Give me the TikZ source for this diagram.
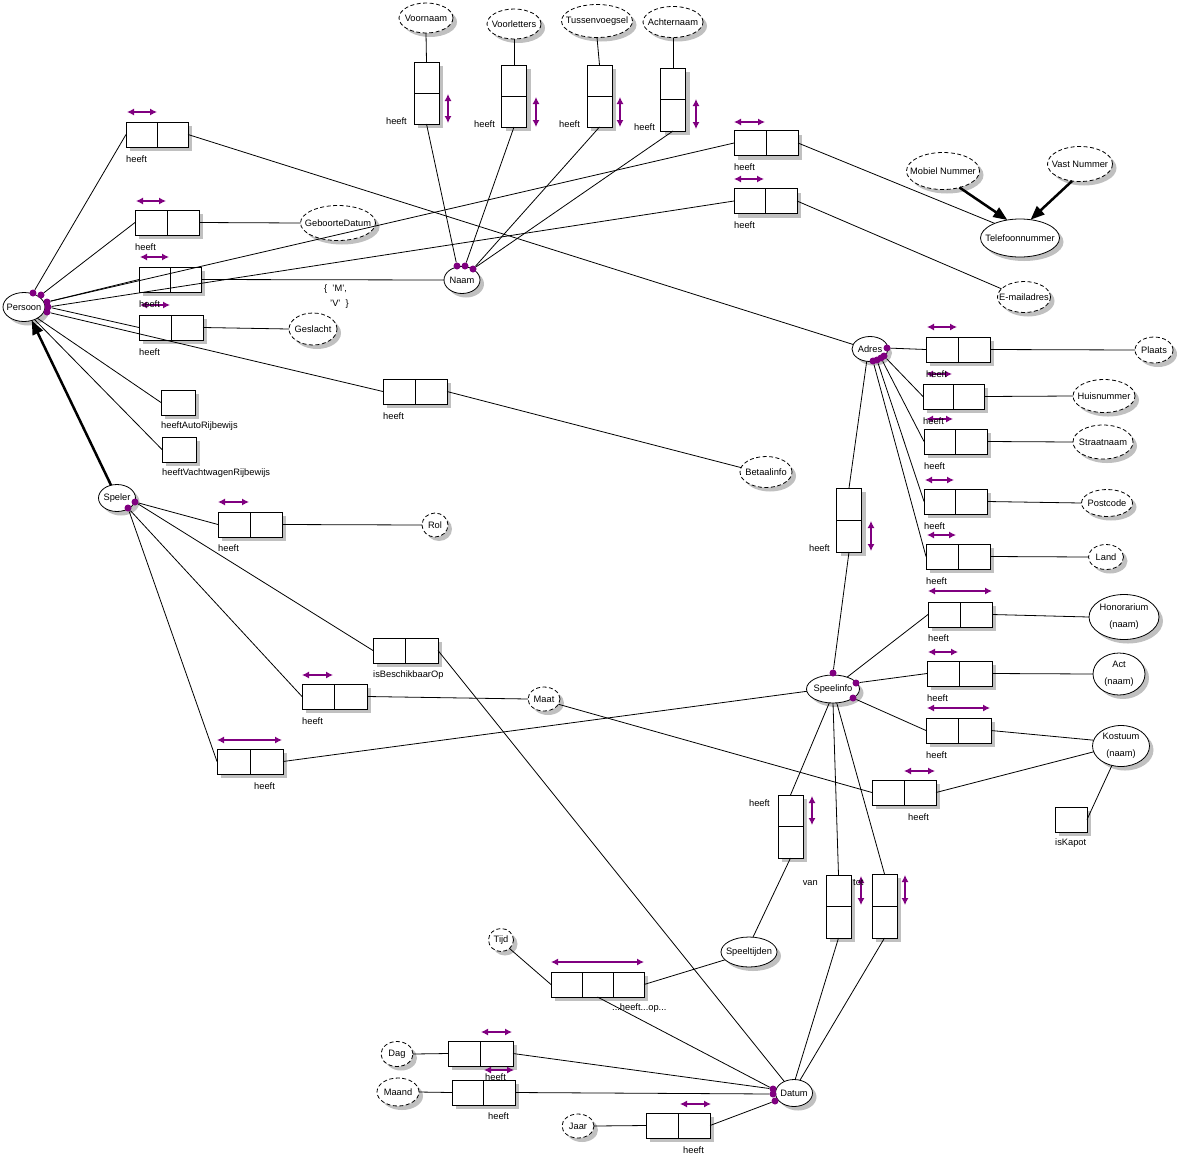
\documentclass[tikz,border=0pt]{standalone}
\usepackage{fontspec}
\setmainfont{Liberation Sans}
\usetikzlibrary{shapes.geometric,shadows,arrows.meta}
\definecolor{ormpurple}{HTML}{800080}
\definecolor{shadowgray}{HTML}{C0C0C0}
\newcommand{\ormH}[4]{\node[rbox,minimum width=#4pt,minimum height=25pt] (#1) at (#2,#3) {};
  \draw[line width=0.9pt] (#1.north) -- (#1.south);}
\newcommand{\ormV}[4]{\node[rbox,minimum width=25pt,minimum height=#4pt] (#1) at (#2,#3) {};
  \draw[line width=0.9pt] (#1.west) -- (#1.east);}
\newcommand{\ormS}[4]{\node[rbox,minimum width=#4pt,minimum height=25pt] (#1) at (#2,#3) {};}
\begin{document}
\begin{tikzpicture}[x=1pt,y=-1pt,
  every node/.style={font=\fontsize{9.3}{11}\selectfont},
  shad/.style={drop shadow={shadow xshift=4pt,shadow yshift=-4pt,fill=shadowgray,opacity=1}},
  rbox/.style={draw,line width=0.9pt,fill=white,inner sep=0pt,outer sep=0pt,shape=rectangle,shad},
  ent/.style={ellipse,draw,line width=0.8pt,fill=white,inner xsep=-10pt,inner ysep=-4pt,outer sep=0pt,align=center,shad,font=\fontsize{9.3}{17}\selectfont},
  val/.style={ent,dash pattern=on 4pt off 2.5pt},
  conn/.style={line width=0.8pt},
  uc/.style={draw=ormpurple,line width=1.2pt,{Latex[length=7pt,width=7pt]}-{Latex[length=7pt,width=7pt]}},
  dot/.style={circle,fill=ormpurple,inner sep=0pt,minimum size=7pt},
  lbl/.style={inner sep=0pt,anchor=west},
  lbr/.style={inner sep=0pt,anchor=east},
  subt/.style={line width=2.5pt,-{Triangle[length=14pt,width=11pt]}}
]
\useasboundingbox[fill=white] (0,0) rectangle (1177,1165);

% ---------- object types ----------
\node[ent,minimum width=42pt,minimum height=29pt] (persoon) at (24,307) {Persoon};
\node[ent,minimum width=36pt,minimum height=27pt] (naam) at (462,280) {Naam};
\node[val,minimum width=54pt,minimum height=30pt] (voornaam) at (426,18) {Voornaam};
\node[val,minimum width=54pt,minimum height=30pt] (voorletters) at (514,24) {Voorletters};
\node[val,minimum width=71pt,minimum height=33pt] (tussen) at (597,21) {Tussenvoegsel};
\node[val,minimum width=60pt,minimum height=31pt] (achternaam) at (673,22) {Achternaam};
\node[val,minimum width=75pt,minimum height=35pt] (geboorte) at (338,223) {GeboorteDatum};
\node[val,minimum width=48pt,minimum height=32pt] (geslacht) at (313,329) {Geslacht};
\node[val,minimum width=73pt,minimum height=37pt] (mobiel) at (943,171) {Mobiel Nummer};
\node[val,minimum width=65pt,minimum height=35pt] (vast) at (1080,164) {Vast Nummer};
\node[ent,minimum width=79pt,minimum height=38pt] (telefoon) at (1020,238) {Telefoonnummer};
\node[val,minimum width=53pt,minimum height=31pt] (email) at (1024,297) {E-mailadres};
\node[ent,minimum width=36pt,minimum height=25pt] (adres) at (870,349) {Adres};
\node[val,minimum width=38pt,minimum height=26pt] (plaats) at (1154,350) {Plaats};
\node[val,minimum width=62pt,minimum height=33pt] (huisnr) at (1104,396) {Huisnummer};
\node[val,minimum width=60pt,minimum height=34pt] (straat) at (1103,442) {Straatnaam};
\node[val,minimum width=51pt,minimum height=27pt] (postcode) at (1107,503) {Postcode};
\node[val,minimum width=35pt,minimum height=25pt] (land) at (1106,557) {Land};
\node[val,minimum width=52pt,minimum height=31pt] (betaal) at (766,472) {Betaalinfo};
\node[ent,minimum width=37pt,minimum height=27pt] (speler) at (117,498) {Speler};
\node[val,minimum width=26pt,minimum height=24pt] (rol) at (435,525) {Rol};
\node[val,minimum width=32pt,minimum height=24pt] (maat) at (544,699) {Maat};
\node[ent,minimum width=53pt,minimum height=28pt] (speelinfo) at (833,689) {Speelinfo};
\node[ent,minimum width=70pt,minimum height=45pt] (honor) at (1124,617) {Honorarium\\(naam)};
\node[ent,minimum width=52pt,minimum height=42pt] (act) at (1119,674) {Act\\(naam)};
\node[ent,minimum width=57pt,minimum height=41pt] (kostuum) at (1121,746) {Kostuum\\(naam)};
\node[ent,minimum width=56pt,minimum height=30pt] (speeltijden) at (749,952) {Speeltijden};
\node[val,minimum width=25pt,minimum height=23pt] (tijd) at (501,940) {Tijd};
\node[ent,minimum width=37pt,minimum height=27pt] (datum) at (794,1093) {Datum};
\node[val,minimum width=32pt,minimum height=25pt] (dag) at (397,1054) {Dag};
\node[val,minimum width=42pt,minimum height=28pt] (maand) at (398,1092) {Maand};
\node[val,minimum width=32pt,minimum height=24pt] (jaar) at (578,1126) {Jaar};

% ---------- fact types ----------
\ormH{bAdres}{157}{134.5}{62}
\ormH{bGeb}{167}{222.5}{64}
\ormH{bNaam}{170}{279.5}{62}
\ormH{bGesl}{171}{327.5}{64}
\ormS{bAuto}{178}{402.5}{34}
\ormS{bVacht}{179}{449.5}{34}
\ormH{bBetaal}{415}{391.5}{64}
\ormH{bTel}{766}{143}{64}
\ormH{bMail}{765.5}{201}{63}
\ormV{bVoor}{426.5}{93}{62}
\ormV{bVoorl}{514}{96}{62}
\ormV{bTussen}{599.5}{96}{62}
\ormV{bAchter}{673}{99.5}{63}
\ormH{bPlaats}{958}{349.5}{64}
\ormH{bHuis}{953.5}{396.5}{61}
\ormH{bStraat}{955.5}{441.5}{63}
\ormH{bPost}{955.5}{501.5}{63}
\ormH{bLand}{958}{556.5}{64}
\ormV{bAdrSpel}{849}{520}{64}
\ormH{bHonor}{960}{614.5}{64}
\ormH{bAct}{959.5}{673.5}{65}
\ormH{bKost}{958.5}{730.5}{65}
\ormH{bMaatK}{904}{792.5}{64}
\ormS{bKapot}{1071}{819.5}{32}
\ormV{bSpT}{790.5}{826.5}{63}
\ormV{bVan}{838.5}{906.5}{63}
\ormV{bTot}{884.5}{906}{64}
\ormH{bRol}{250}{524.5}{64}
\ormH{bBesch}{405.5}{650.5}{65}
\ormH{bMaat}{334.5}{696.5}{65}
\ormH{bSpInfo}{250}{761.5}{66}
\node[rbox,minimum width=93pt,minimum height=25pt] (bSpTijd) at (597.5,984.5) {};
\draw[line width=0.9pt] ([xshift=31pt]bSpTijd.north west) -- ([xshift=31pt]bSpTijd.south west);
\draw[line width=0.9pt] ([xshift=-31pt]bSpTijd.north east) -- ([xshift=-31pt]bSpTijd.south east);
\ormH{bDag}{480.5}{1053.5}{65}
\ormH{bMaand}{483.5}{1092.5}{63}
\ormH{bJaar}{678}{1125.5}{64}

% ---------- uniqueness constraints ----------
\draw[uc] (127,112) -- (157,112);
\draw[uc] (136,201) -- (166,201);
\draw[uc] (140,257) -- (169,257);
\draw[uc] (140,305) -- (170,305);
\draw[uc] (734,122) -- (765,122);
\draw[uc] (734,179) -- (764,179);
\draw[uc] (448,94) -- (448,123);
\draw[uc] (536,97) -- (536,127);
\draw[uc] (620,97) -- (620,127);
\draw[uc] (696,99) -- (696,129);
\draw[uc] (927,327) -- (957,327);
\draw[uc] (926,374) -- (952,374);
\draw[uc] (926,419) -- (953,419);
\draw[uc] (925,480) -- (954,480);
\draw[uc] (927,535) -- (956,535);
\draw[uc] (871,521) -- (871,551);
\draw[uc] (928,591) -- (992,591);
\draw[uc] (928,652) -- (958,652);
\draw[uc] (927,708) -- (990,708);
\draw[uc] (904,771) -- (935,771);
\draw[uc] (812,796) -- (812,825);
\draw[uc] (861,876) -- (861,905);
\draw[uc] (905,875) -- (905,905);
\draw[uc] (218,502) -- (249,502);
\draw[uc] (302,675) -- (333,675);
\draw[uc] (217,740) -- (282,740);
\draw[uc] (551,962) -- (644,962);
\draw[uc] (481,1032) -- (512,1032);
\draw[uc] (484,1070) -- (514,1070);
\draw[uc] (680,1104) -- (711,1104);

% ---------- role dots ----------
\node[dot] (pd1) at (33,293) {};
\node[dot] (pd2) at (41,295) {};
\node[dot] (pd3) at (47,302) {};
\node[dot] (pd4) at (48,307) {};
\node[dot] (pd5) at (47,312) {};
\node[dot] (nd1) at (457,266) {};
\node[dot] (nd2) at (465,266) {};
\node[dot] (nd3) at (473,269) {};
\node[dot] (ad0) at (887,348) {};
\node[dot] (ad1) at (873,361) {};
\node[dot] (ad2) at (877,360) {};
\node[dot] (ad3) at (881,358) {};
\node[dot] (ad4) at (884,356) {};
\node[dot] (sd1) at (135,502) {};
\node[dot] (sd2) at (128,508) {};
\node[dot] (sid1) at (833,673) {};
\node[dot] (sid2) at (856,683) {};
\node[dot] (sid3) at (853,698) {};
\node[dot] (dd1) at (773,1089) {};
\node[dot] (dd2) at (773,1094) {};
\node[dot] (dd3) at (775,1101) {};

% ---------- connectors ----------
\draw[conn] (pd1) -- (bAdres.west);
\draw[conn] (pd2) -- (bGeb.west);
\draw[conn] (pd3) -- (bNaam.west);
\draw[conn] (pd3) -- (bTel.west);
\draw[conn] (pd4) -- (bMail.west);
\draw[conn] (pd4) -- (bGesl.west);
\draw[conn] (pd5) -- (bBetaal.west);
\draw[conn] (persoon.-40) -- (bAuto.west);
\draw[conn] (persoon.-50) -- (bVacht.west);
\draw[subt] (speler.115) -- (persoon.-60);
\draw[conn] (bAdres.east) -- (adres.165);
\draw[conn] (bGeb.east) -- (geboorte.west);
\draw[conn] (bNaam.east) -- (naam.west);
\draw[conn] (bGesl.east) -- (geslacht.west);
\draw[conn] (bBetaal.east) -- (betaal.170);
\draw[conn] (bTel.east) -- (telefoon.150);
\draw[conn] (bMail.east) -- (email.160);
\draw[subt] (mobiel.-45) -- (telefoon.125);
\draw[subt] (vast.-115) -- (telefoon.60);
\draw[conn] (voornaam.south) -- (bVoor.north);
\draw[conn] (voorletters.south) -- (bVoorl.north);
\draw[conn] (tussen.south) -- (bTussen.north);
\draw[conn] (achternaam.south) -- (bAchter.north);
\draw[conn] (bVoor.south) -- (nd1);
\draw[conn] (bVoorl.south) -- (nd2);
\draw[conn] (bTussen.south) -- (nd3);
\draw[conn] (bAchter.south) -- (nd3);
\draw[conn] (ad0) -- (bPlaats.west);
\draw[conn] (ad4) -- (bHuis.west);
\draw[conn] (ad3) -- (bStraat.west);
\draw[conn] (ad2) -- (bPost.west);
\draw[conn] (ad1) -- (bLand.west);
\draw[conn] (adres.-105) -- (bAdrSpel.north);
\draw[conn] (bPlaats.east) -- (plaats.west);
\draw[conn] (bHuis.east) -- (huisnr.west);
\draw[conn] (bStraat.east) -- (straat.west);
\draw[conn] (bPost.east) -- (postcode.west);
\draw[conn] (bLand.east) -- (land.west);
\draw[conn] (sid1) -- (bAdrSpel.south);
\draw[conn] (speelinfo.40) -- (bHonor.west);
\draw[conn] (sid2) -- (bAct.west);
\draw[conn] (sid3) -- (bKost.west);
\draw[conn] (bHonor.east) -- (honor.west);
\draw[conn] (bAct.east) -- (act.west);
\draw[conn] (bKost.east) -- (kostuum.168);
\draw[conn] (bMaatK.east) -- (kostuum.192);
\draw[conn] (kostuum.-115) -- (bKapot.east);
\draw[conn] (maat.-20) -- (bMaatK.west);
\draw[conn] (bSpInfo.east) -- (speelinfo.185);
\draw[conn] (speelinfo.-105) -- (bSpT.north);
\draw[conn] (speelinfo.-90) -- (bVan.north);
\draw[conn] (speelinfo.-75) -- (bTot.north);
\draw[conn] (bSpT.south) -- (speeltijden.75);
\draw[conn] (bVan.south) -- (datum.85);
\draw[conn] (bTot.south) -- (datum.65);
\draw[conn] (sd1) -- (bRol.west);
\draw[conn] (sd1) -- (bBesch.west);
\draw[conn] (sd2) -- (bMaat.west);
\draw[conn] (sd2) -- (bSpInfo.west);
\draw[conn] (bRol.east) -- (rol.west);
\draw[conn] (bMaat.east) -- (maat.west);
\draw[conn] (bBesch.east) -- (datum.130);
\draw[conn] (tijd.-45) -- (bSpTijd.west);
\draw[conn] (bSpTijd.east) -- (speeltijden.198);
\draw[conn] (bSpTijd.south) -- (dd1);
\draw[conn] (bDag.east) -- (dd1);
\draw[conn] (bMaand.east) -- (dd2);
\draw[conn] (bJaar.east) -- (dd3);
\draw[conn] (dag.east) -- (bDag.west);
\draw[conn] (maand.east) -- (bMaand.west);
\draw[conn] (jaar.east) -- (bJaar.west);

% ---------- labels ----------
\node[lbl] (t1) at (126,159) {heeft};
\node[lbl] (t2) at (135,247) {heeft};
\node[lbl] (t3) at (139,304) {heeft};
\node[lbl] (t4) at (139,352) {heeft};
\node[lbl] (t5) at (161,426) {heeftAutoRijbewijs};
\node[lbl] (t6) at (162,473) {heeftVachtwagenRijbewijs};
\node[lbl] (t7) at (383,416) {heeft};
\node[lbl] (t8) at (734,167) {heeft};
\node[lbl] (t9) at (734,225) {heeft};
\node[lbr] (t10) at (407,121) {heeft};
\node[lbl] (t11) at (474,124) {heeft};
\node[lbl] (t12) at (559,124) {heeft};
\node[lbl] (t13) at (634,127) {heeft};
\node[lbl] (t14) at (324,289) {\{\ \ 'M',};
\node[lbl] (t15) at (330,304) {'V'\ \ \}};
\node[lbl] (t16) at (926,374) {heeft};
\node[lbl] (t17) at (923,421) {heeft};
\node[lbl] (t18) at (924,466) {heeft};
\node[lbl] (t19) at (924,526) {heeft};
\node[lbl] (t20) at (926,581) {heeft};
\node[lbr] (t21) at (830,548) {heeft};
\node[lbl] (t22) at (928,638) {heeft};
\node[lbl] (t23) at (927,698) {heeft};
\node[lbl] (t24) at (926,755) {heeft};
\node[lbl] (t25) at (908,817) {heeft};
\node[lbl] (t26) at (1055,843) {isKapot};
\node[lbr] (t27) at (770,803) {heeft};
\node[lbr] (t28) at (818,883) {van};
\node[lbl] (t29) at (853,883) {tot};
\node[lbl] (t30) at (218,548) {heeft};
\node[lbl] (t31) at (373,675) {isBeschikbaarOp};
\node[lbl] (t32) at (302,721) {heeft};
\node[lbl] (t33) at (254,786) {heeft};
\node[lbl] (t34) at (612,1008) {...heeft...op...};
\node[lbl] (t35) at (485,1077) {heeft};
\node[lbl] (t36) at (488,1116) {heeft};
\node[lbl] (t37) at (683,1150) {heeft};
\end{tikzpicture}
\end{document}
